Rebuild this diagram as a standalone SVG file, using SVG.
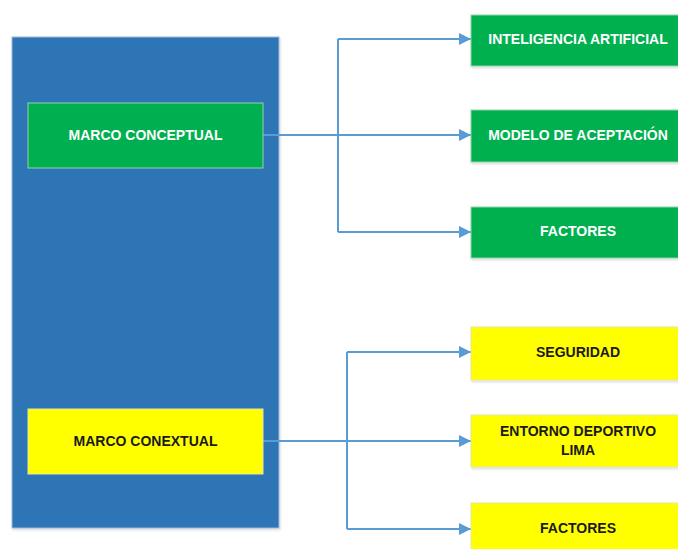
<svg xmlns="http://www.w3.org/2000/svg" width="678" height="549" viewBox="0 0 678 549">
  <defs>
    <marker id="arrow" viewBox="0 0 10 10" refX="10" refY="5" markerWidth="6.5" markerHeight="6" markerUnits="strokeWidth" orient="auto">
      <path d="M0,0 L10,5 L0,10 z" fill="#5B9BD5"/>
    </marker>
    <filter id="soft" x="-5%" y="-5%" width="110%" height="115%">
      <feDropShadow dx="1" dy="1.5" stdDeviation="1.2" flood-color="#000" flood-opacity="0.15"/>
    </filter>
  </defs>
  <style>
    .panel { fill: #2E74B5; stroke: #9DB9D8; stroke-width: 1; }
    .green { fill: #00B050; stroke: #8FD3A8; stroke-width: 1; }
    .yellow { fill: #FFFF00; stroke: #E6E6A0; stroke-width: 1; }
    .label { font-family: "Liberation Sans", Arial, sans-serif; font-weight: bold; font-size: 14px; text-anchor: middle; dominant-baseline: central; }
    .light { fill: #FFFFFF; }
    .dark { fill: #1A1A1A; }
    .link { fill: none; stroke: #5B9BD5; stroke-width: 2; }
  </style>

  <rect width="678" height="549" fill="#FFFFFF"/>

  <!-- background panel -->
  <g id="panel">
    <rect class="panel" x="12" y="37" width="267" height="491" filter="url(#soft)"/>
  </g>

  <!-- connectors -->
  <g id="connectors">
    <path class="link" d="M263,135 H338"/>
    <path class="link" d="M338,39 V232"/>
    <path class="link" d="M338,39 H471" marker-end="url(#arrow)"/>
    <path class="link" d="M338,135 H471" marker-end="url(#arrow)"/>
    <path class="link" d="M338,232 H471" marker-end="url(#arrow)"/>

    <path class="link" d="M263,441 H347"/>
    <path class="link" d="M347,352 V529"/>
    <path class="link" d="M347,352 H471" marker-end="url(#arrow)"/>
    <path class="link" d="M347,441 H471" marker-end="url(#arrow)"/>
    <path class="link" d="M347,529 H471" marker-end="url(#arrow)"/>
  </g>

  <!-- left nodes -->
  <g id="marco-conceptual">
    <rect class="green" x="28" y="103" width="235" height="65"/>
    <text class="label light" x="145.5" y="135">MARCO CONCEPTUAL</text>
  </g>
  <g id="marco-conextual">
    <rect class="yellow" x="28" y="409" width="235" height="65"/>
    <text class="label dark" x="145.5" y="441">MARCO CONEXTUAL</text>
  </g>

  <!-- conceptual branch -->
  <g id="inteligencia-artificial">
    <rect class="green" x="471" y="15" width="216" height="51" filter="url(#soft)"/>
    <text class="label light" x="578" y="39">INTELIGENCIA ARTIFICIAL</text>
  </g>
  <g id="modelo-aceptacion">
    <rect class="green" x="471" y="110" width="216" height="52" filter="url(#soft)"/>
    <text class="label light" x="578" y="135">MODELO DE ACEPTACIÓN</text>
  </g>
  <g id="factores-conceptual">
    <rect class="green" x="471" y="207" width="216" height="51" filter="url(#soft)"/>
    <text class="label light" x="578" y="231">FACTORES</text>
  </g>

  <!-- contextual branch -->
  <g id="seguridad">
    <rect class="yellow" x="471" y="327" width="216" height="53" filter="url(#soft)"/>
    <text class="label dark" x="578" y="352">SEGURIDAD</text>
  </g>
  <g id="entorno-deportivo">
    <rect class="yellow" x="471" y="415" width="216" height="52" filter="url(#soft)"/>
    <text class="label dark" x="578" y="431">ENTORNO DEPORTIVO</text>
    <text class="label dark" x="578" y="450">LIMA</text>
  </g>
  <g id="factores-contextual">
    <rect class="yellow" x="471" y="503" width="216" height="54"/>
    <text class="label dark" x="578" y="528">FACTORES</text>
  </g>
</svg>
